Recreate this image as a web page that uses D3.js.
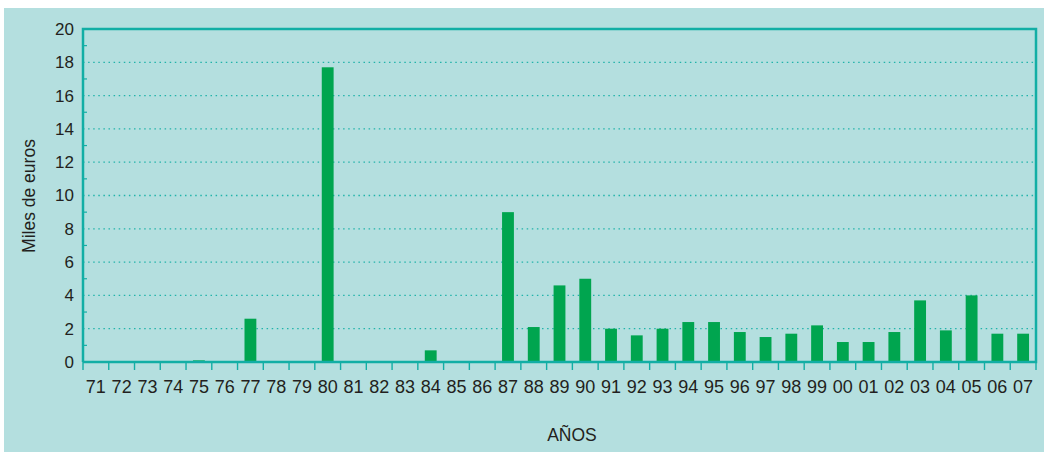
<!DOCTYPE html>
<html><head><meta charset="utf-8">
<script src="https://cdn.jsdelivr.net/npm/d3@7"></script>
<style>html,body{margin:0;padding:0;background:#fff}svg{display:block}</style>
</head><body>
<script>
const years = ["71","72","73","74","75","76","77","78","79","80","81","82","83","84","85","86","87","88","89","90","91","92","93","94","95","96","97","98","99","00","01","02","03","04","05","06","07"];
const values = [0,0,0,0,0.1,0,2.6,0,0,17.7,0,0,0,0.7,0,0,9.0,2.1,4.6,5.0,2.0,1.6,2.0,2.4,2.4,1.8,1.5,1.7,2.2,1.2,1.2,1.8,3.7,1.9,4.0,1.7,1.7];
const yTicks = [0,2,4,6,8,10,12,14,16,18,20];
const yMinor = [1,3,5,7,9,11,13,15,17,19];
const yTitle = "Miles de euros";
const xTitle = "AÑOS";

const W=1044,H=452;
const L=83,R=1036,T=29,B=362;
const svg=d3.select("body").append("svg").attr("width",W).attr("height",H);
svg.append("rect").attr("x",4).attr("y",8).attr("width",W-4).attr("height",H-8).attr("fill","#b4dfdf");

const x=d3.scaleBand().domain(years).range([L,R]).paddingInner(0.54).paddingOuter(0.27);
const xb=d3.scaleBand().domain(years).range([L,R]);
const y=d3.scaleLinear().domain([0,20]).range([B,T]);
const teal="#12aea5", font="'Liberation Sans', Arial, sans-serif", ink="#231f20";

// gridlines
svg.append("g").selectAll("line").data(yTicks.filter(d=>d>0&&d<20)).join("line")
  .attr("x1",L).attr("x2",R).attr("y1",d=>y(d)).attr("y2",d=>y(d))
  .attr("stroke","#22b3aa").attr("stroke-width",1.3).attr("stroke-dasharray","1.5,3.6");

// bars
svg.append("g").selectAll("rect").data(years.map((k,i)=>({k,v:values[i]}))).join("rect")
  .attr("x",d=>x(d.k)).attr("width",x.bandwidth())
  .attr("y",d=>y(d.v)).attr("height",d=>B-y(d.v)).attr("fill","#00a54f");

// y axis
const ya=svg.append("g").attr("transform",`translate(${L},0)`)
  .call(d3.axisLeft(y).tickValues(yTicks).tickSize(0).tickPadding(9));
ya.select(".domain").remove();
ya.selectAll("text").attr("font-family",font).attr("font-size",17).attr("fill",ink);
svg.append("g").selectAll("line").data(yMinor).join("line")
  .attr("x1",L).attr("x2",L+4).attr("y1",d=>y(d)).attr("y2",d=>y(d)).attr("stroke",teal).attr("stroke-width",1.2);

// x axis
const xa=svg.append("g").attr("transform",`translate(0,${B})`)
  .call(d3.axisBottom(xb).tickSize(0).tickPadding(18));
xa.select(".domain").remove();
xa.selectAll("text").attr("font-family",font).attr("font-size",18).attr("fill",ink);
const bounds=years.map(k=>xb(k)).concat([xb(years[years.length-1])+xb.bandwidth()]);
svg.append("g").selectAll("line").data(bounds).join("line")
  .attr("x1",d=>d).attr("x2",d=>d).attr("y1",B).attr("y2",B+8).attr("stroke",teal).attr("stroke-width",1.4);

// frame
svg.append("path").attr("d",`M${L},${B}V${T}H${R}V${B}H${L}`).attr("fill","none")
  .attr("stroke",teal).attr("stroke-width",2.5);

svg.append("text").attr("transform",`translate(35,196) rotate(-90)`).attr("text-anchor","middle")
  .attr("font-family",font).attr("font-size",17.5).attr("fill",ink).text(yTitle);
svg.append("text").attr("x",572).attr("y",441).attr("text-anchor","middle")
  .attr("font-family",font).attr("font-size",17.5).attr("fill",ink).text(xTitle);
</script>
</body></html>
